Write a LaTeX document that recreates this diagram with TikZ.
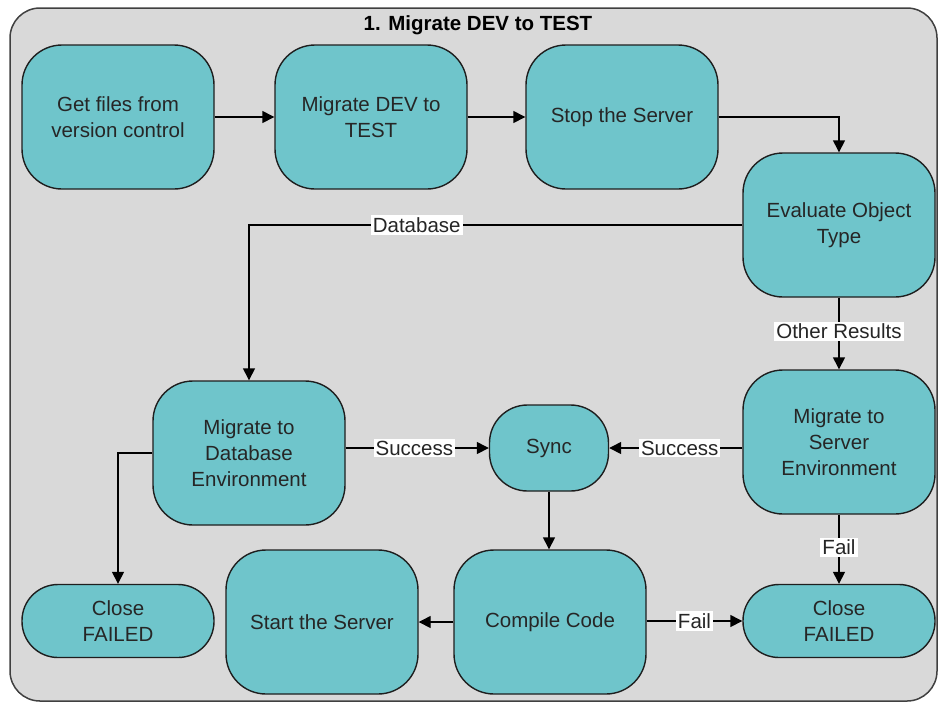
\documentclass[tikz,border=0pt]{standalone}
\usepackage{fontspec}
\setmainfont{Liberation Sans}
\usetikzlibrary{arrows.meta}
\definecolor{panelgray}{HTML}{D9D9D9}
\definecolor{boxteal}{HTML}{6FC5CB}
\definecolor{edgedark}{HTML}{1E1E1E}
\tikzset{
  stepbox/.style={draw=edgedark, line width=1.4pt, fill=boxteal, rounded corners=40pt,
    minimum width=192pt, minimum height=144pt, align=center, inner sep=0pt,
    font=\fontsize{20.5}{26}\selectfont, text=black!85},
  syncbox/.style={stepbox, minimum width=119pt, minimum height=86pt, rounded corners=38pt},
  endbox/.style={stepbox, minimum height=73pt, rounded corners=36pt},
  flow/.style={draw=black, line width=1.4pt, -{Triangle[length=12pt,width=12pt]}},
  lbl/.style={fill=white, inner sep=2pt, font=\fontsize{20.5}{24}\selectfont, text=black!85}
}
\begin{document}
\begin{tikzpicture}[x=1pt,y=-1pt]
\useasboundingbox (0,0) rectangle (939,702);
% outer swimlane panel
\draw[draw=black!75, line width=1.5pt, fill=panelgray, rounded corners=30pt]
  (10,8) rectangle (937,701);
\node[font=\bfseries\fontsize{20.5}{24}\selectfont] (title) at (478,25) {1. Migrate DEV to TEST};

% process steps
\node[stepbox] (get)   at (118,117) {Get files from\\version control};
\node[stepbox] (mig)   at (371,117) {Migrate DEV to\\TEST};
\node[stepbox] (stop)  at (622,117) {Stop the Server};
\node[stepbox] (eval)  at (839,225) {Evaluate Object\\Type};
\node[stepbox] (dbenv) at (249,453) {Migrate to\\Database\\Environment};
\node[syncbox] (sync)  at (549,448) {Sync};
\node[stepbox] (srv)   at (839,442) {Migrate to\\Server\\Environment};
\node[endbox]  (fail1) at (118,621) {Close\\FAILED};
\node[stepbox] (start) at (322,622) {Start the Server};
\node[stepbox] (comp)  at (550,622) {Compile Code};
\node[endbox]  (fail2) at (839,621) {Close\\FAILED};

% connectors
\draw[flow] (get) -- (mig);
\draw[flow] (mig) -- (stop);
\draw[flow] (stop.east) -| (eval.north);
\draw[flow] (eval.west) -| node[lbl, pos=0.33] {Database} (dbenv.north);
\draw[flow] (eval) -- node[lbl, pos=0.47] {Other Results} (srv);
\draw[flow] (dbenv.east |- sync.east) -- node[lbl, pos=0.48] {Success} (sync.west);
\draw[flow] (srv.west |- sync.east) -- node[lbl, pos=0.47] {Success} (sync.east);
\draw[flow] (dbenv.west) -| (fail1.north);
\draw[flow] (sync) -- (sync |- comp.north);
\draw[flow] (comp) -- (start);
\draw[flow] (comp.east |- fail2.east) -- node[lbl, pos=0.5] {Fail} (fail2.west);
\draw[flow] (srv) -- node[lbl, pos=0.47] {Fail} (fail2);
\end{tikzpicture}
\end{document}
